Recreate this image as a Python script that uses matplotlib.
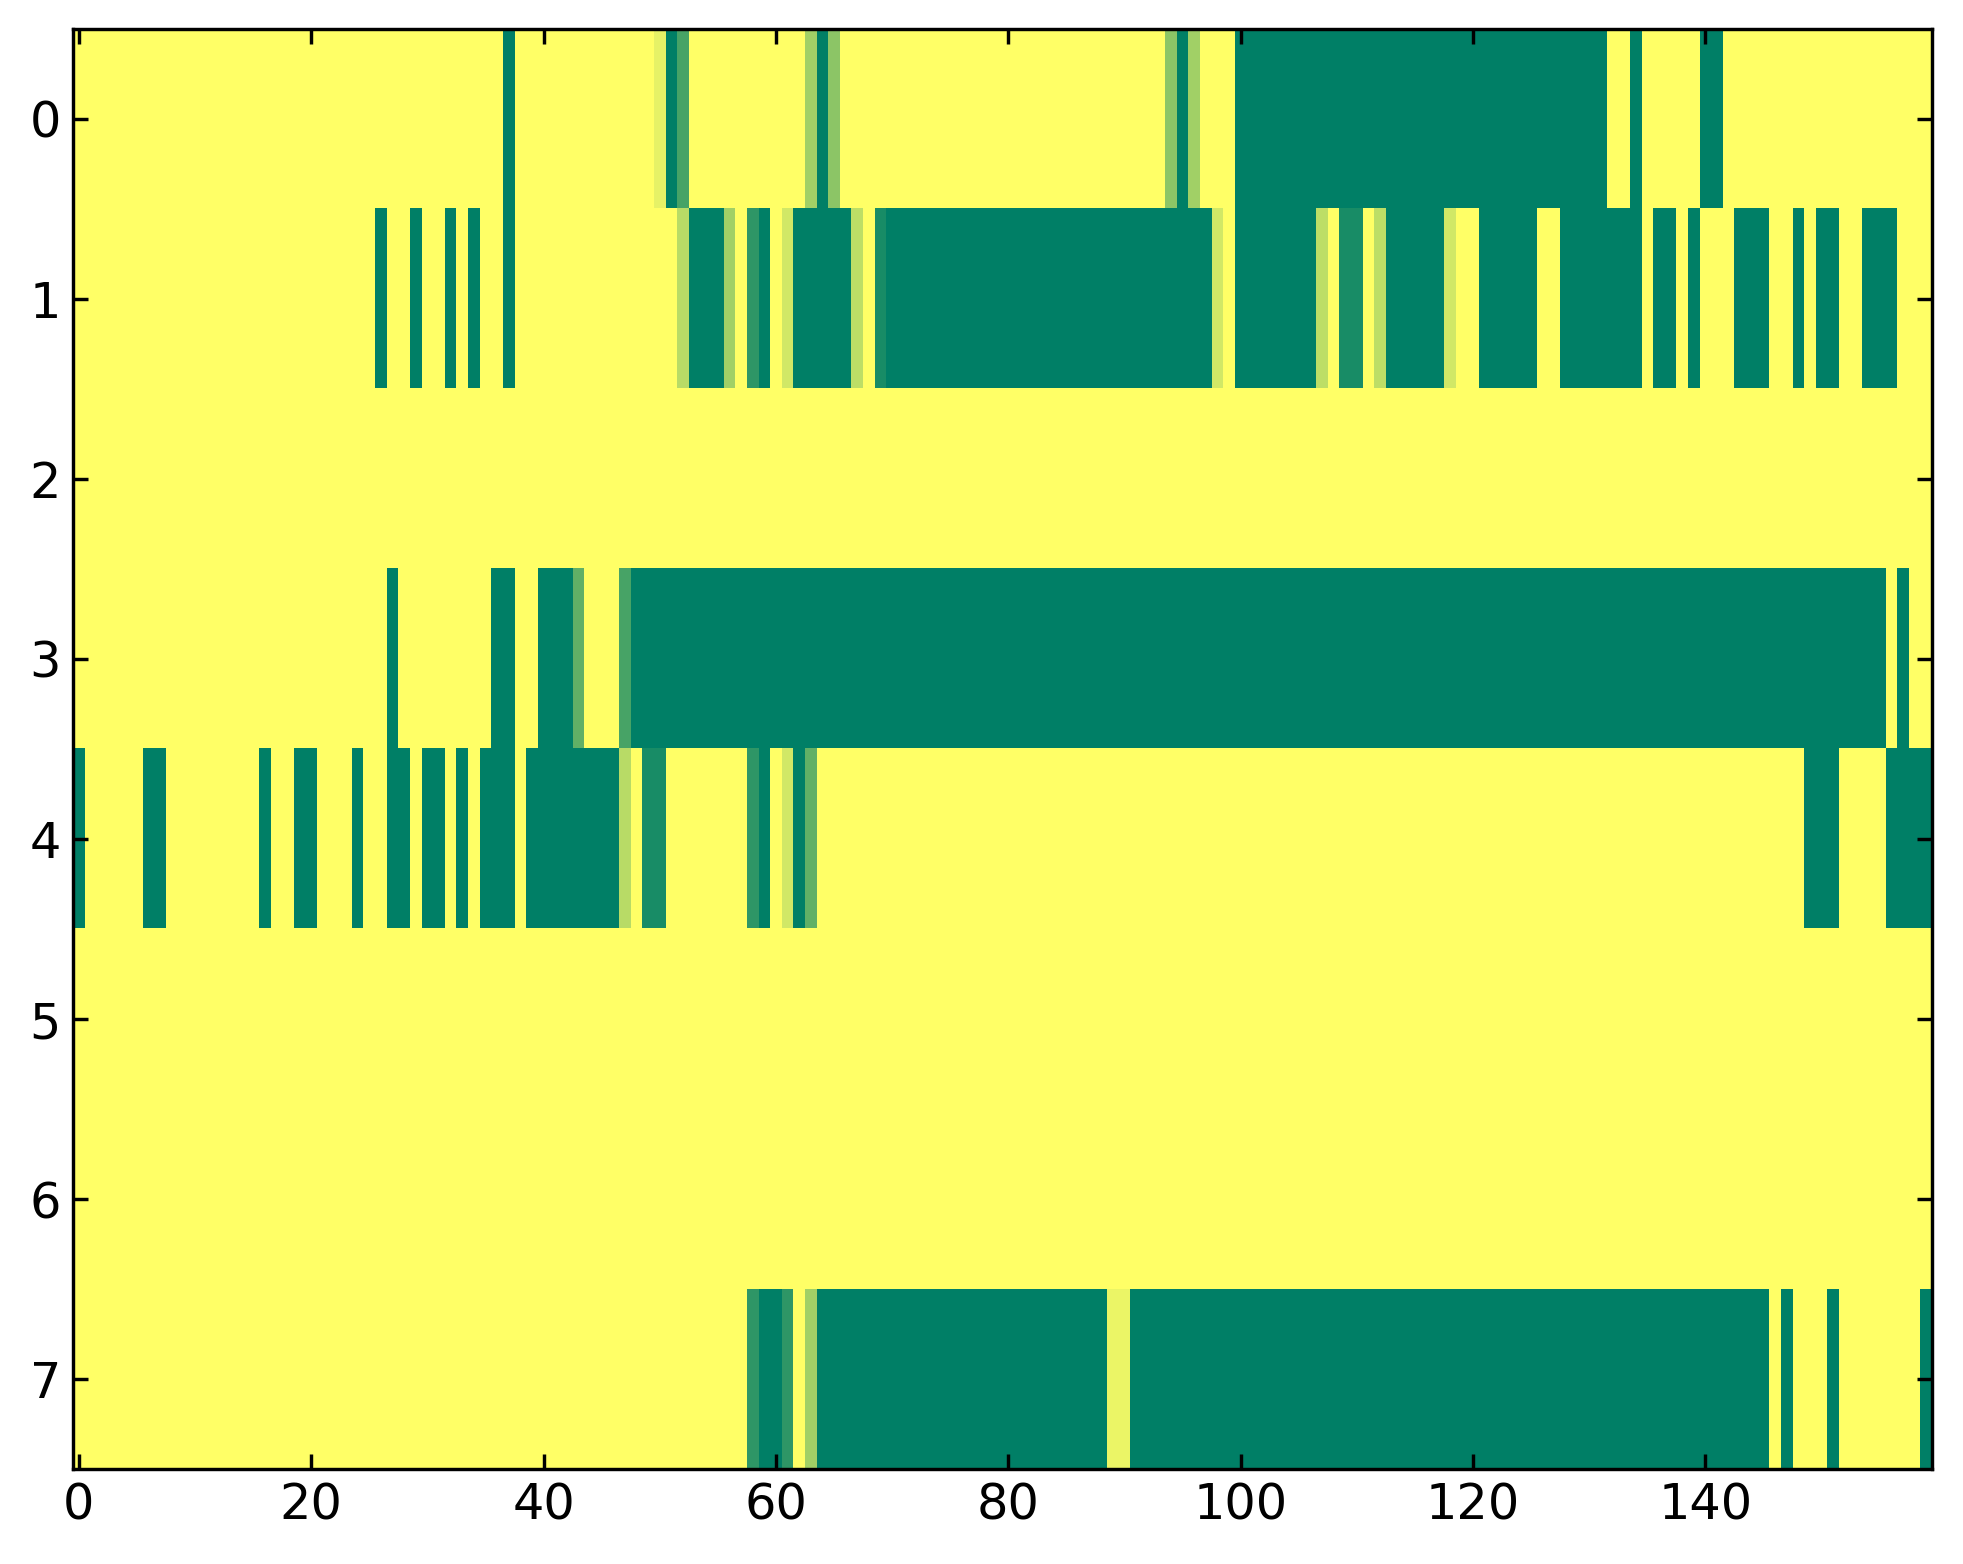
import matplotlib
matplotlib.use("Agg")
import matplotlib.pyplot as plt
import numpy as np

# old-style look: ticks pointing in, on every side
plt.rcParams['xtick.direction'] = 'in'
plt.rcParams['ytick.direction'] = 'in'
plt.rcParams['xtick.top'] = True
plt.rcParams['ytick.right'] = True
plt.rcParams['xtick.major.size'] = 4.5
plt.rcParams['ytick.major.size'] = 4.5
plt.rcParams['xtick.major.width'] = 1.0
plt.rcParams['ytick.major.width'] = 1.0
plt.rcParams['font.size'] = 14.5
plt.rcParams['font.family'] = 'DejaVu Sans'

# one list per row, 160 columns each (20 per line)
row0 = [0, 0, 0, 0, 0, 0, 0, 0, 0, 0, 0, 0, 0, 0, 0, 0, 0, 0, 0, 0,
        0, 0, 0, 0, 0, 0, 0, 0, 0, 0, 0, 0, 0, 0, 0, 0, 0, 1, 0, 0,
        0, 0, 0, 0, 0, 0, 0, 0, 0, 0, 0.1, 1, 0.72, 0, 0, 0, 0, 0, 0, 0,
        0, 0, 0, 0.37, 1, 0.45, 0, 0, 0, 0, 0, 0, 0, 0, 0, 0, 0, 0, 0, 0,
        0, 0, 0, 0, 0, 0, 0, 0, 0, 0, 0, 0, 0, 0, 0.45, 1, 0.37, 0, 0, 0,
        1, 1, 1, 1, 1, 1, 1, 1, 1, 1, 1, 1, 1, 1, 1, 1, 1, 1, 1, 1,
        1, 1, 1, 1, 1, 1, 1, 1, 1, 1, 1, 1, 0, 0, 1, 0, 0, 0, 0, 0,
        1, 1, 0, 0, 0, 0, 0, 0, 0, 0, 0, 0, 0, 0, 0, 0, 0, 0, 0, 0]

row1 = [0, 0, 0, 0, 0, 0, 0, 0, 0, 0, 0, 0, 0, 0, 0, 0, 0, 0, 0, 0,
        0, 0, 0, 0, 0, 0, 1, 0, 0, 1, 0, 0, 1, 0, 1, 0, 0, 1, 0, 0,
        0, 0, 0, 0, 0, 0, 0, 0, 0, 0, 0, 0, 0.28, 1, 1, 1, 0.37, 0, 0.82, 1,
        0, 0.18, 1, 1, 1, 1, 1, 0.26, 0, 0.9, 1, 1, 1, 1, 1, 1, 1, 1, 1, 1,
        1, 1, 1, 1, 1, 1, 1, 1, 1, 1, 1, 1, 1, 1, 1, 1, 1, 1, 0.18, 0,
        1, 1, 1, 1, 1, 1, 1, 0.26, 0, 0.9, 0.9, 0, 0.26, 1, 1, 1, 1, 1, 0.18, 0,
        0, 1, 1, 1, 1, 1, 0, 0, 1, 1, 1, 1, 1, 1, 1, 0, 1, 1, 0, 1,
        0, 0, 0, 1, 1, 1, 0, 0, 1, 0, 1, 1, 0, 0, 1, 1, 1, 0, 0, 0]

row2 = [0, 0, 0, 0, 0, 0, 0, 0, 0, 0, 0, 0, 0, 0, 0, 0, 0, 0, 0, 0,
        0, 0, 0, 0, 0, 0, 0, 0, 0, 0, 0, 0, 0, 0, 0, 0, 0, 0, 0, 0,
        0, 0, 0, 0, 0, 0, 0, 0, 0, 0, 0, 0, 0, 0, 0, 0, 0, 0, 0, 0,
        0, 0, 0, 0, 0, 0, 0, 0, 0, 0, 0, 0, 0, 0, 0, 0, 0, 0, 0, 0,
        0, 0, 0, 0, 0, 0, 0, 0, 0, 0, 0, 0, 0, 0, 0, 0, 0, 0, 0, 0,
        0, 0, 0, 0, 0, 0, 0, 0, 0, 0, 0, 0, 0, 0, 0, 0, 0, 0, 0, 0,
        0, 0, 0, 0, 0, 0, 0, 0, 0, 0, 0, 0, 0, 0, 0, 0, 0, 0, 0, 0,
        0, 0, 0, 0, 0, 0, 0, 0, 0, 0, 0, 0, 0, 0, 0, 0, 0, 0, 0, 0]

row3 = [0, 0, 0, 0, 0, 0, 0, 0, 0, 0, 0, 0, 0, 0, 0, 0, 0, 0, 0, 0,
        0, 0, 0, 0, 0, 0, 0, 1, 0, 0, 0, 0, 0, 0, 0, 0, 1, 1, 0, 0,
        1, 1, 1, 0.62, 0, 0, 0, 0.72, 1, 1, 1, 1, 1, 1, 1, 1, 1, 1, 1, 1,
        1, 1, 1, 1, 1, 1, 1, 1, 1, 1, 1, 1, 1, 1, 1, 1, 1, 1, 1, 1,
        1, 1, 1, 1, 1, 1, 1, 1, 1, 1, 1, 1, 1, 1, 1, 1, 1, 1, 1, 1,
        1, 1, 1, 1, 1, 1, 1, 1, 1, 1, 1, 1, 1, 1, 1, 1, 1, 1, 1, 1,
        1, 1, 1, 1, 1, 1, 1, 1, 1, 1, 1, 1, 1, 1, 1, 1, 1, 1, 1, 1,
        1, 1, 1, 1, 1, 1, 1, 1, 1, 1, 1, 1, 1, 1, 1, 1, 0, 1, 0, 0]

row4 = [1, 0, 0, 0, 0, 0, 1, 1, 0, 0, 0, 0, 0, 0, 0, 0, 1, 0, 0, 1,
        1, 0, 0, 0, 1, 0, 0, 1, 1, 0, 1, 1, 0, 1, 0, 1, 1, 1, 0, 1,
        1, 1, 1, 1, 1, 1, 1, 0.28, 0, 0.9, 0.9, 0, 0, 0, 0, 0, 0, 0, 0.82, 1,
        0, 0.18, 1, 0.62, 0, 0, 0, 0, 0, 0, 0, 0, 0, 0, 0, 0, 0, 0, 0, 0,
        0, 0, 0, 0, 0, 0, 0, 0, 0, 0, 0, 0, 0, 0, 0, 0, 0, 0, 0, 0,
        0, 0, 0, 0, 0, 0, 0, 0, 0, 0, 0, 0, 0, 0, 0, 0, 0, 0, 0, 0,
        0, 0, 0, 0, 0, 0, 0, 0, 0, 0, 0, 0, 0, 0, 0, 0, 0, 0, 0, 0,
        0, 0, 0, 0, 0, 0, 0, 0, 0, 1, 1, 1, 0, 0, 0, 0, 1, 1, 1, 1]

row5 = [0, 0, 0, 0, 0, 0, 0, 0, 0, 0, 0, 0, 0, 0, 0, 0, 0, 0, 0, 0,
        0, 0, 0, 0, 0, 0, 0, 0, 0, 0, 0, 0, 0, 0, 0, 0, 0, 0, 0, 0,
        0, 0, 0, 0, 0, 0, 0, 0, 0, 0, 0, 0, 0, 0, 0, 0, 0, 0, 0, 0,
        0, 0, 0, 0, 0, 0, 0, 0, 0, 0, 0, 0, 0, 0, 0, 0, 0, 0, 0, 0,
        0, 0, 0, 0, 0, 0, 0, 0, 0, 0, 0, 0, 0, 0, 0, 0, 0, 0, 0, 0,
        0, 0, 0, 0, 0, 0, 0, 0, 0, 0, 0, 0, 0, 0, 0, 0, 0, 0, 0, 0,
        0, 0, 0, 0, 0, 0, 0, 0, 0, 0, 0, 0, 0, 0, 0, 0, 0, 0, 0, 0,
        0, 0, 0, 0, 0, 0, 0, 0, 0, 0, 0, 0, 0, 0, 0, 0, 0, 0, 0, 0]

row6 = [0, 0, 0, 0, 0, 0, 0, 0, 0, 0, 0, 0, 0, 0, 0, 0, 0, 0, 0, 0,
        0, 0, 0, 0, 0, 0, 0, 0, 0, 0, 0, 0, 0, 0, 0, 0, 0, 0, 0, 0,
        0, 0, 0, 0, 0, 0, 0, 0, 0, 0, 0, 0, 0, 0, 0, 0, 0, 0, 0, 0,
        0, 0, 0, 0, 0, 0, 0, 0, 0, 0, 0, 0, 0, 0, 0, 0, 0, 0, 0, 0,
        0, 0, 0, 0, 0, 0, 0, 0, 0, 0, 0, 0, 0, 0, 0, 0, 0, 0, 0, 0,
        0, 0, 0, 0, 0, 0, 0, 0, 0, 0, 0, 0, 0, 0, 0, 0, 0, 0, 0, 0,
        0, 0, 0, 0, 0, 0, 0, 0, 0, 0, 0, 0, 0, 0, 0, 0, 0, 0, 0, 0,
        0, 0, 0, 0, 0, 0, 0, 0, 0, 0, 0, 0, 0, 0, 0, 0, 0, 0, 0, 0]

row7 = [0, 0, 0, 0, 0, 0, 0, 0, 0, 0, 0, 0, 0, 0, 0, 0, 0, 0, 0, 0,
        0, 0, 0, 0, 0, 0, 0, 0, 0, 0, 0, 0, 0, 0, 0, 0, 0, 0, 0, 0,
        0, 0, 0, 0, 0, 0, 0, 0, 0, 0, 0, 0, 0, 0, 0, 0, 0, 0, 0.82, 1,
        1, 0.82, 0, 0.37, 1, 1, 1, 1, 1, 1, 1, 1, 1, 1, 1, 1, 1, 1, 1, 1,
        1, 1, 1, 1, 1, 1, 1, 1, 1, 0.08, 0.08, 1, 1, 1, 1, 1, 1, 1, 1, 1,
        1, 1, 1, 1, 1, 1, 1, 1, 1, 1, 1, 1, 1, 1, 1, 1, 1, 1, 1, 1,
        1, 1, 1, 1, 1, 1, 1, 1, 1, 1, 1, 1, 1, 1, 1, 1, 1, 1, 1, 1,
        1, 1, 1, 1, 1, 1, 0, 1, 0, 0, 0, 1, 0, 0, 0, 0, 0, 0, 0, 1]

grid = np.array([row0, row1, row2, row3, row4, row5, row6, row7], dtype=float)

fig = plt.figure(figsize=(8, 6.374), dpi=245.375)
ax = fig.add_axes([0.0372, 0.0607, 0.947, 0.9208])
ax.imshow(grid, cmap='summer_r', vmin=0, vmax=1, aspect='auto',
          interpolation='nearest')

ax.set_xticks(np.arange(0, 160, 20))
ax.set_yticks(np.arange(0, 8))
for sp in ax.spines.values():
    sp.set_linewidth(1.0)

fig.savefig('out.png', dpi=245.375, facecolor='white')
